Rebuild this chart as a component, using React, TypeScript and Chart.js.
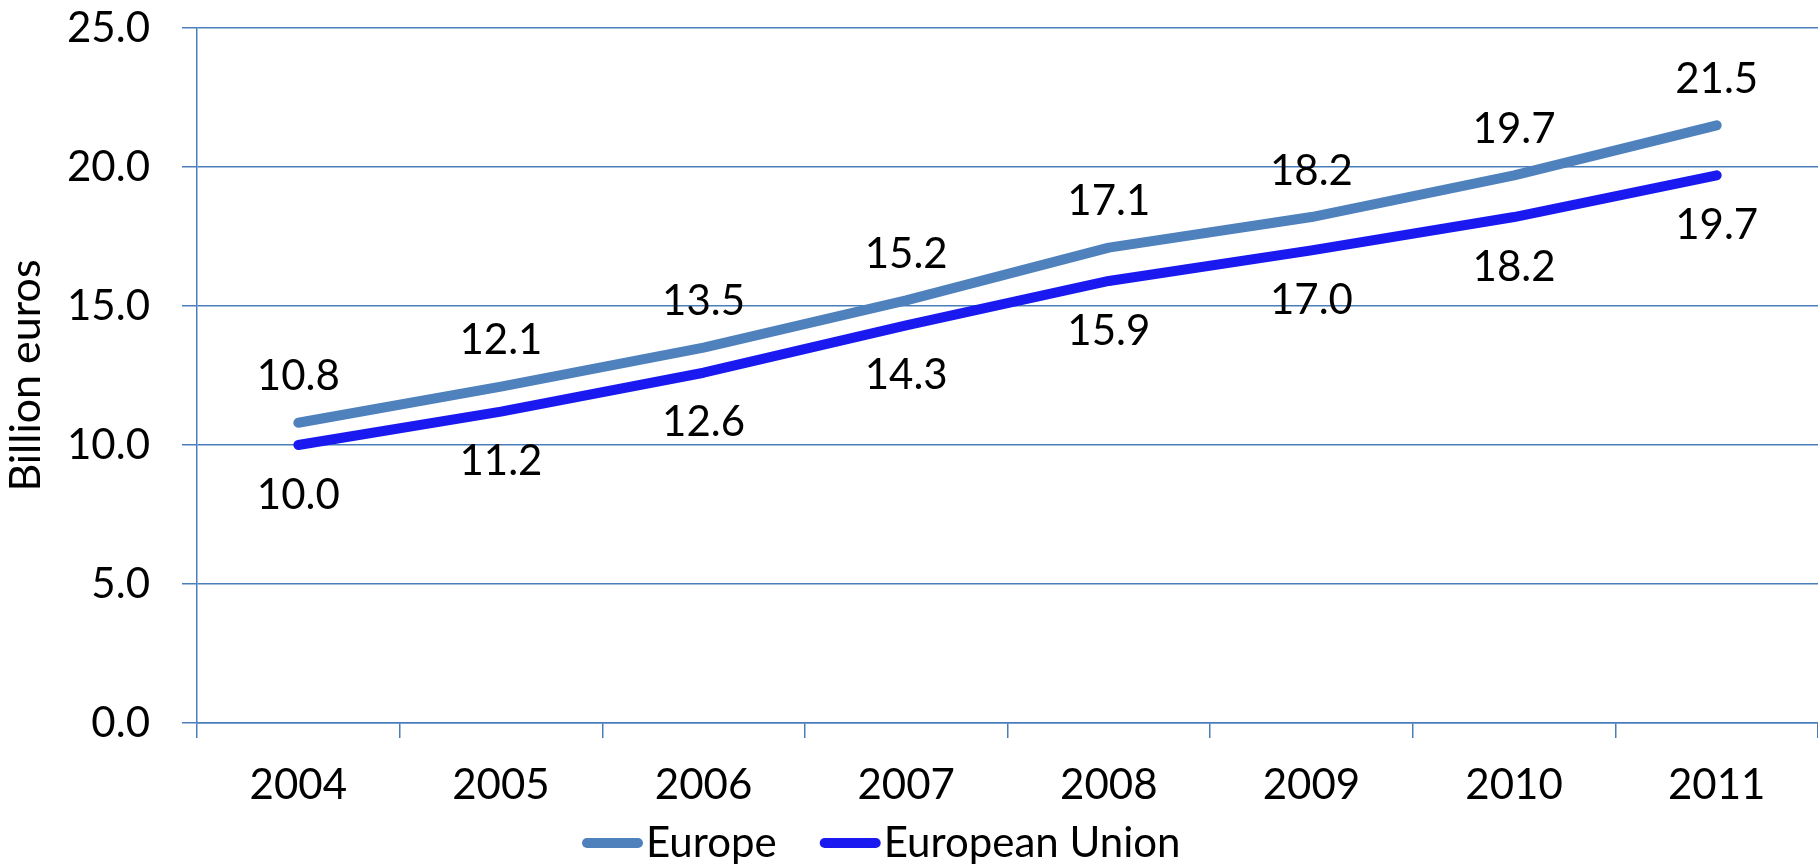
import React, { useEffect, useRef } from "react";
import { Chart, registerables } from "chart.js";

Chart.register(...registerables);

const years = ["2004", "2005", "2006", "2007", "2008", "2009", "2010", "2011"];
const europe = [10.8, 12.1, 13.5, 15.2, 17.1, 18.2, 19.7, 21.5];
const eu = [10.0, 11.2, 12.6, 14.3, 15.9, 17.0, 18.2, 19.7];
const seriesNames = ["Europe", "European Union"];
const seriesColors = ["#4F81BD", "#1A1AF0"];

const FONT = "Lato, 'Open Sans', sans-serif";
const FS = 42;

const labelPlugin = {
  id: "valueLabels",
  afterDatasetsDraw(chart: any) {
    const ctx = chart.ctx;
    ctx.save();
    ctx.font = `${FS}px ${FONT}`;
    ctx.fillStyle = "#000";
    ctx.textAlign = "center";
    ctx.textBaseline = "middle";
    chart.data.datasets.forEach((ds: any, i: number) => {
      const meta = chart.getDatasetMeta(i);
      meta.data.forEach((pt: any, j: number) => {
        const off = i === 0 ? -46 : 50;
        ctx.fillText(Number(ds.data[j]).toFixed(1), pt.x, pt.y + off);
      });
    });
    ctx.restore();
  },
};

const legendPlugin = {
  id: "customLegend",
  afterDraw(chart: any) {
    const ctx = chart.ctx;
    ctx.save();
    ctx.font = `${FS}px ${FONT}`;
    ctx.textBaseline = "middle";
    ctx.textAlign = "left";
    const y = 843;
    let x = 582;
    seriesNames.forEach((name, i) => {
      ctx.strokeStyle = seriesColors[i];
      ctx.lineWidth = 10;
      ctx.lineCap = "round";
      ctx.beginPath();
      ctx.moveTo(x + 5, y);
      ctx.lineTo(x + 56, y);
      ctx.stroke();
      ctx.fillStyle = "#000";
      ctx.fillText(name, x + 64, y);
      const w = ctx.measureText(name).width;
      x = x + 64 + w + 43;
    });
    ctx.restore();
  },
};

export default function App() {
  const ref = useRef<HTMLCanvasElement | null>(null);
  useEffect(() => {
    if (!ref.current) return;
    const chart = new Chart(ref.current, {
      type: "line",
      data: {
        labels: years,
        datasets: [
          {
            label: seriesNames[0],
            data: europe,
            borderColor: seriesColors[0],
            backgroundColor: seriesColors[0],
            borderWidth: 10,
            pointRadius: 0,
            borderCapStyle: "round",
            borderJoinStyle: "round",
            tension: 0,
          },
          {
            label: seriesNames[1],
            data: eu,
            borderColor: seriesColors[1],
            backgroundColor: seriesColors[1],
            borderWidth: 10,
            pointRadius: 0,
            borderCapStyle: "round",
            borderJoinStyle: "round",
            tension: 0,
          },
        ],
      },
      options: {
        animation: false,
        responsive: false,
        maintainAspectRatio: false,
        layout: { padding: { top: 28, left: 0, right: 0, bottom: 64 } },
        plugins: {
          legend: { display: false },
          tooltip: { enabled: false },
        },
        scales: {
          x: {
            offset: true,
            grid: {
              offset: true,
              drawOnChartArea: false,
              drawTicks: true,
              tickLength: 15,
              color: "#4A7EBB",
              lineWidth: 1.5,
            },
            border: { color: "#4A7EBB", width: 1.5 },
            ticks: {
              color: "#000",
              font: { family: FONT, size: FS },
              padding: 22,
              maxRotation: 0,
            },
            afterFit(scale: any) {
              scale.height = 80;
              scale.paddingLeft = 0;
              scale.paddingRight = 0;
            },
          },
          y: {
            min: 0,
            max: 25,
            grid: {
              color: "#4A7EBB",
              lineWidth: 1.5,
              tickLength: 15,
            },
            border: { color: "#4A7EBB", width: 1.5 },
            ticks: {
              stepSize: 5,
              color: "#000",
              font: { family: FONT, size: FS },
              padding: 32,
              callback: (v: any) => Number(v).toFixed(1),
            },
            title: {
              display: true,
              text: "Billion euros",
              color: "#000",
              font: { family: FONT, size: 43 },
              padding: { top: 0, bottom: 0 },
            },
            afterFit(scale: any) {
              scale.width = 197;
              scale.paddingTop = 0;
              scale.paddingBottom = 0;
            },
          },
        },
      },
      plugins: [labelPlugin, legendPlugin],
    });
    return () => chart.destroy();
  }, []);
  return (
    <div style={{ position: "fixed", left: 0, top: 0, width: 1818, height: 867, background: "#fff" }}>
      <canvas ref={ref} width={1818} height={867} style={{ width: 1818, height: 867 }} />
    </div>
  );
}
